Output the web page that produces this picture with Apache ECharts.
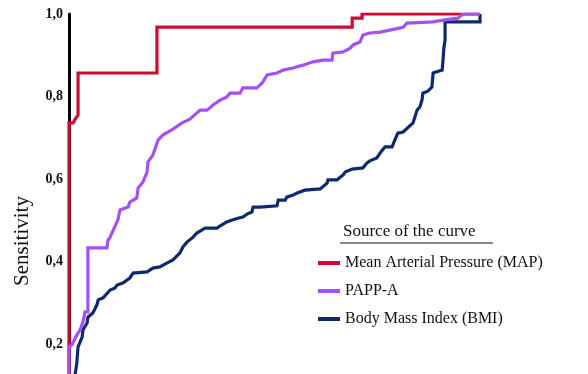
<!DOCTYPE html>
<html><head><meta charset="utf-8">
<script src="https://cdn.jsdelivr.net/npm/echarts@6/dist/echarts.min.js"></script>
<style>html,body{margin:0;padding:0;background:#fff}#c{width:588px;height:374px}</style>
</head><body><div id="c"></div>
<script>
const seriesNames = ['Mean Arterial Pressure (MAP)', 'PAPP-A', 'Body Mass Index (BMI)'];
const yTicks = [0.2, 0.4, 0.6, 0.8, 1.0];
const yMin = 0.1273; // lowest visible sensitivity (chart is cropped at the bottom)
// [1 - specificity, sensitivity]
const mapData = [[0,0],[0,0.736],[0.010,0.736],[0.017,0.748],[0.022,0.755],[0.022,0.857],[0.214,0.857],[0.214,0.968],[0.689,0.968],[0.689,0.990],[0.713,0.990],[0.713,1.0],[1.0,1.0]];
const pappData = [[0,0],[0,0.193],[0.007,0.198],[0.019,0.222],[0.027,0.234],[0.034,0.253],[0.039,0.278],[0.046,0.278],[0.046,0.433],[0.092,0.433],[0.095,0.452],[0.100,0.459],[0.119,0.501],[0.124,0.525],[0.144,0.532],[0.148,0.544],[0.165,0.554],[0.168,0.578],[0.180,0.593],[0.190,0.617],[0.192,0.641],[0.204,0.658],[0.217,0.695],[0.229,0.707],[0.253,0.721],[0.275,0.736],[0.294,0.745],[0.319,0.767],[0.336,0.767],[0.350,0.779],[0.367,0.791],[0.384,0.799],[0.392,0.808],[0.416,0.808],[0.423,0.821],[0.457,0.821],[0.470,0.833],[0.482,0.852],[0.506,0.857],[0.521,0.864],[0.545,0.869],[0.569,0.876],[0.594,0.884],[0.618,0.888],[0.640,0.888],[0.642,0.905],[0.667,0.908],[0.684,0.917],[0.691,0.925],[0.708,0.932],[0.715,0.949],[0.732,0.954],[0.757,0.956],[0.781,0.961],[0.813,0.968],[0.822,0.978],[0.886,0.981],[0.910,0.985],[0.946,0.990],[0.956,0.998],[0.964,1.0],[1.0,1.0]];
const bmiData = [[0,0],[0.010,0.06],[0.015,0.127],[0.019,0.154],[0.022,0.193],[0.032,0.217],[0.034,0.234],[0.044,0.251],[0.046,0.265],[0.058,0.275],[0.068,0.295],[0.071,0.307],[0.083,0.312],[0.100,0.331],[0.112,0.336],[0.117,0.343],[0.131,0.348],[0.148,0.360],[0.156,0.372],[0.190,0.375],[0.204,0.384],[0.221,0.387],[0.238,0.396],[0.253,0.404],[0.270,0.421],[0.277,0.435],[0.287,0.447],[0.302,0.459],[0.311,0.469],[0.331,0.481],[0.360,0.481],[0.367,0.486],[0.384,0.496],[0.399,0.501],[0.411,0.505],[0.423,0.508],[0.433,0.515],[0.445,0.520],[0.448,0.532],[0.465,0.532],[0.506,0.535],[0.509,0.549],[0.526,0.549],[0.530,0.556],[0.545,0.561],[0.555,0.566],[0.574,0.573],[0.611,0.576],[0.628,0.590],[0.630,0.598],[0.652,0.598],[0.667,0.610],[0.672,0.617],[0.689,0.624],[0.715,0.627],[0.725,0.639],[0.732,0.644],[0.749,0.651],[0.757,0.663],[0.769,0.678],[0.786,0.678],[0.793,0.695],[0.800,0.711],[0.813,0.714],[0.837,0.736],[0.847,0.767],[0.854,0.775],[0.859,0.792],[0.861,0.808],[0.873,0.813],[0.883,0.823],[0.886,0.857],[0.891,0.859],[0.908,0.864],[0.910,0.888],[0.912,0.917],[0.915,0.937],[0.915,0.981],[1.0,0.981],[1.0,1.0]];

const colors = { map: '#cf0a30', papp: '#a550f2', bmi: '#0c2a6c' };
const serif = '"Liberation Serif", "Times New Roman", serif';

const chart = echarts.init(document.getElementById('c'), null, { renderer: 'canvas' });
const lineStyle = (c) => ({ color: c, width: 3.2, join: 'miter' });
chart.setOption({
  animation: false,
  backgroundColor: '#fff',
  grid: { left: 69, right: 108, top: 14, bottom: 0, containLabel: false },
  xAxis: { type: 'value', min: 0, max: 1, show: false },
  yAxis: {
    type: 'value', min: yMin, max: 1,
    axisLine: { show: true, lineStyle: { color: '#000', width: 3 } },
    axisTick: { show: false },
    splitLine: { show: false },
    axisLabel: {
      customValues: yTicks,
      margin: 6, color: '#111', fontFamily: serif, fontSize: 14, fontWeight: 'bold',
      formatter: (v) => v.toFixed(1).replace('.', ',')
    }
  },
  legend: {
    data: seriesNames,
    orient: 'vertical', left: 313, top: 250, itemGap: 12,
    itemWidth: 22, itemHeight: 4, icon: 'rect',
    textStyle: { fontFamily: serif, fontSize: 16, color: '#111' },
    selectedMode: false
  },
  graphic: [
    { type: 'text', left: 343, top: 223, style: { text: 'Source of the curve', font: '17px ' + serif, fill: '#111' } },
    { type: 'line', shape: { x1: 340, y1: 243, x2: 493, y2: 243 }, style: { stroke: '#111', lineWidth: 1.2 } },
    { type: 'text', x: 22, y: 241, rotation: Math.PI / 2, style: { text: 'Sensitivity', font: '21px ' + serif, fill: '#111', align: 'center', verticalAlign: 'middle' } }
  ],
  series: [
    { name: seriesNames[2], type: 'line', data: bmiData, showSymbol: false, lineStyle: lineStyle(colors.bmi), itemStyle: { color: colors.bmi }, z: 2 },
    { name: seriesNames[0], type: 'line', data: mapData, showSymbol: false, lineStyle: lineStyle(colors.map), itemStyle: { color: colors.map }, z: 3 },
    { name: seriesNames[1], type: 'line', data: pappData, showSymbol: false, lineStyle: lineStyle(colors.papp), itemStyle: { color: colors.papp }, z: 4 }
  ]
});
</script></body></html>
